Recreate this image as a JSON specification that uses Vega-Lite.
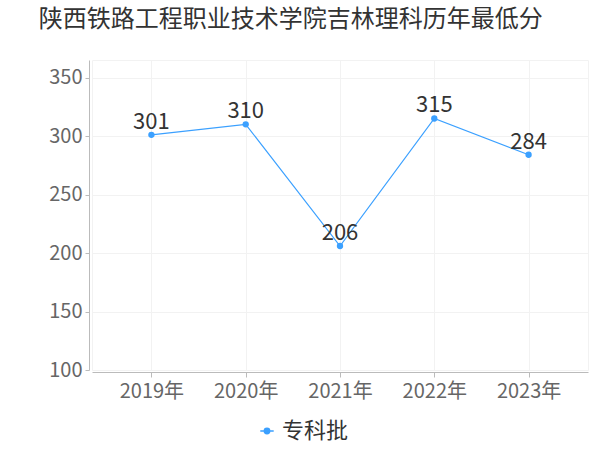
{
  "$schema": "https://vega.github.io/schema/vega-lite/v6.json",
  "autosize": "none",
  "width": 496,
  "height": 310,
  "padding": {"left": 92, "top": 60, "right": 12, "bottom": 80},
  "background": "white",
  "config": {"view": {"stroke": "#f2f2f2"}},
  "title": {
    "text": "陕西铁路工程职业技术学院吉林理科历年最低分",
    "anchor": "start",
    "dx": -10,
    "offset": 28,
    "fontSize": 24,
    "fontWeight": "normal",
    "color": "#333333",
    "font": "Noto Sans CJK SC"
  },
  "data": {
    "values": [
      {"year": "2019年", "score": 301, "type": "专科批"},
      {"year": "2020年", "score": 310, "type": "专科批"},
      {"year": "2021年", "score": 206, "type": "专科批"},
      {"year": "2022年", "score": 315, "type": "专科批"},
      {"year": "2023年", "score": 284, "type": "专科批"}
    ]
  },
  "encoding": {
    "x": {
      "field": "year",
      "type": "ordinal",
      "scale": {"type": "point", "padding": 0.63},
      "axis": {
        "title": null,
        "labelAngle": 0,
        "labelFontSize": 20,
        "labelColor": "#666666",
        "labelFont": "Noto Sans CJK SC",
        "labelPadding": 4,
        "domainColor": "#bbbbbb",
        "tickColor": "#bbbbbb",
        "tickSize": 5,
        "grid": true,
        "gridColor": "#f2f2f2",
        "offset": 2
      }
    },
    "y": {
      "field": "score",
      "type": "quantitative",
      "scale": {"domain": [100, 365], "nice": false},
      "axis": {
        "title": null,
        "values": [100, 150, 200, 250, 300, 350],
        "labelFontSize": 20,
        "labelColor": "#666666",
        "labelFont": "Noto Sans CJK SC",
        "domainColor": "#bbbbbb",
        "tickColor": "#bbbbbb",
        "tickSize": 4,
        "labelPadding": 3,
        "grid": true,
        "gridColor": "#f2f2f2",
        "offset": 3
      }
    }
  },
  "layer": [
    {
      "mark": {"type": "line", "color": "#3ba0ff", "strokeWidth": 1.2},
      "encoding": {
        "color": {
          "field": "type",
          "type": "nominal",
          "scale": {"range": ["#3ba0ff"]},
          "legend": {
            "title": null,
            "orient": "none",
            "legendX": 164,
            "legendY": 360,
            "labelFontSize": 22,
            "labelColor": "#333333",
            "labelFont": "Noto Sans CJK SC",
            "symbolType": "M-1,0L1,0M-0.4,0A0.4,0.4 0 1,1 0.4,0A0.4,0.4 0 1,1 -0.4,0Z",
            "symbolFillColor": "#3ba0ff",
            "symbolStrokeColor": "#3ba0ff",
            "symbolSize": 180,
            "symbolStrokeWidth": 1.5,
            "symbolOpacity": 1
          }
        }
      }
    },
    {
      "mark": {"type": "point", "filled": true, "size": 40, "color": "#3ba0ff", "opacity": 1}
    },
    {
      "mark": {"type": "text", "dy": -13, "fontSize": 22, "color": "#333333", "font": "Noto Sans CJK SC"},
      "encoding": {"text": {"field": "score", "type": "quantitative"}}
    }
  ]
}
